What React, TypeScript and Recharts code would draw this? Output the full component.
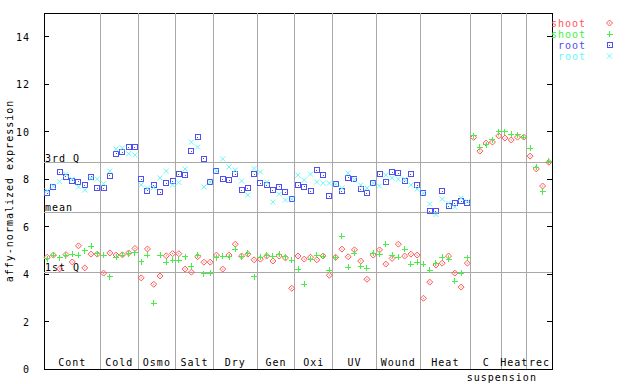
import React from "react";
import {
  ScatterChart,
  Scatter,
  XAxis,
  YAxis,
  ReferenceLine,
  ReferenceArea,
} from "recharts";

// experiment groups along the x axis, and how many samples each holds
const groups = ["Cont", "Cold", "Osmo", "Salt", "Dry", "Gen", "Oxi", "UV", "Wound", "Heat", "C", "Heat", "rec"];
const groupSizes = [9, 6, 6, 6, 7, 6, 6, 7, 7, 8, 5, 4, 4];
const yTicks = [0, 2, 4, 6, 8, 10, 12, 14];

// quartile / mean reference levels
const thirdQ = 8.68;
const meanLevel = 6.61;
const firstQ = 4.08;

// shoot, replicate 1 (red diamonds)
const shootA = [
  4.71, 4.8, 4.22, 4.82, 4.51, 5.19, 4.26, 4.84, 4.84,
  4.04, 4.89, 4.8, 4.81, 4.89, 5.08,
  3.84, 5.06, 3.57, 3.92, 4.77, 4.86,
  4.86, 4.21, 4.08, 4.73, 4.5, 4.5,
  4.8, 4.21, 4.8, 5.26, 4.76, 4.84, 4.6,
  4.63, 4.76, 4.55, 4.76, 4.68, 3.4,
  4.76, 4.63, 4.71, 4.6, 4.76, 3.95,
  4.71, 5.05, 4.73, 5.02, 4.55, 3.78, 4.8,
  5.02, 4.42, 4.66, 5.26, 4.76, 4.84, 4.8,
  2.98, 3.66, 4.38, 4.46, 4.76, 4.04, 3.45, 4.46,
  9.76, 9.18, 9.52, 9.56, 9.82,
  9.73, 9.65, 9.77, 9.77,
  8.97, 8.43, 7.71, 8.71,
];

// shoot, replicate 2 (green plus)
const shootB = [
  4.64, 4.8, 4.68, 4.77, 4.84, 4.8, 4.98, 5.18, 4.85,
  4.8, 3.88, 4.71, 4.8, 4.85, 4.89,
  4.51, 4.8, 2.77, 4.8, 4.5, 4.59,
  4.59, 4.72, 4.33, 4.8, 4.01, 4.04,
  4.68, 4.76, 4.73, 5.05, 4.73, 4.88, 3.88,
  4.71, 4.8, 4.76, 4.84, 4.73, 4.59,
  4.21, 3.57, 4.63, 4.8, 4.76, 4.16,
  4.68, 5.6, 4.29, 4.88, 4.33, 4.25, 4.88,
  4.84, 5.26, 4.8, 4.71, 5.05, 4.42, 4.5,
  4.42, 4.16, 4.46, 4.71, 4.63, 3.7, 4.04, 4.68,
  9.82, 9.35, 9.44, 9.65, 10.0,
  10.0, 9.9, 9.86, 9.77,
  9.31, 8.51, 7.46, 8.76,
];

// root, replicate 1 (blue squares)
const rootA = [
  7.41, 7.68, 8.3, 8.1, 7.93, 7.88, 7.75, 8.1, 7.62,
  7.62, 8.14, 9.06, 9.14, 9.35, 9.35,
  8.0, 7.51, 7.75, 7.45, 7.83, 7.92,
  8.21, 8.17, 9.18, 9.77, 8.85, 7.88,
  8.34, 8.0, 7.96, 8.21, 7.54, 7.62, 8.21,
  7.83, 7.75, 7.54, 7.67, 7.45, 7.16,
  7.75, 7.67, 7.5, 8.38, 8.17, 7.28,
  7.79, 7.5, 8.05, 8.0, 7.58, 7.41, 7.83,
  8.21, 7.88, 8.3, 8.25, 7.92, 8.21, 7.75,
  7.41, 6.65, 6.65, 7.5, 6.86, 6.99, 7.07, 7.0,
  null, null, null, null, null,
  null, null, null, null,
  null, null, null, null,
];

// root, replicate 2 (cyan crosses)
const rootB = [
  7.51, 7.7, 7.9, 8.2, 8.0, 7.67, 7.54, 8.03, 8.0,
  7.81, 8.34, 9.27, 9.31, 9.07, 9.02,
  7.76, 7.62, 7.65, 8.05, 8.34, 7.75,
  7.86, 8.43, 9.56, 9.35, 7.67, 7.88,
  8.34, 8.85, 8.51, 8.38, 7.92, 7.33, 8.45,
  8.3, 7.88, 7.03, 7.37, 7.12, 7.16,
  8.17, 7.96, 8.21, 7.88, 7.83, 7.83,
  7.79, 7.62, 8.25, 7.98, 7.75, 7.62, 7.83,
  7.71, 8.17, 8.05, 8.0, 8.0, 7.75, 7.58,
  7.41, 6.95, 6.51, 7.16, 6.99, 6.82, 7.2, 7.05,
  null, null, null, null, null,
  null, null, null, null,
  null, null, null, null,
];

const RED = "#ff5555";
const GREEN = "#44f044";
const BLUE = "#5050f0";
const CYAN = "#66f8f8";
const GRID = "#a8a8a8";
const FONT = "'DejaVu Sans Mono', monospace";

const total = groupSizes.reduce((a, b) => a + b, 0);
const bounds: number[] = [];
const centers: number[] = [];
let acc = 0;
groupSizes.forEach((n) => {
  centers.push(acc + n / 2);
  acc += n;
  bounds.push(acc);
});
const suspensionAt = bounds[10]; // between C and Heat of the suspension block

const toPoints = (vals: (number | null)[]) =>
  vals
    .map((v, i) => ({ x: i + 0.5, y: v }))
    .filter((p) => p.y !== null);

const txt = { fontFamily: FONT, fontSize: 10, letterSpacing: 1 };

const Diamond = (color: string) => (p: any) => (
  <g>
    <polygon
      points={`${p.cx},${p.cy - 3} ${p.cx + 3},${p.cy} ${p.cx},${p.cy + 3} ${p.cx - 3},${p.cy}`}
      fill="none"
      stroke={color}
    />
    <rect x={p.cx - 0.5} y={p.cy - 0.5} width={1} height={1} fill={color} />
  </g>
);

const Plus = (color: string) => (p: any) => (
  <g stroke={color} shapeRendering="crispEdges">
    <line x1={p.cx - 3} x2={p.cx + 3} y1={p.cy} y2={p.cy} />
    <line x1={p.cx} x2={p.cx} y1={p.cy - 3} y2={p.cy + 3} />
  </g>
);

const Square = (color: string) => (p: any) => (
  <g shapeRendering="crispEdges">
    <rect x={p.cx - 2.5} y={p.cy - 2.5} width={5} height={5} fill="none" stroke={color} />
    <rect x={p.cx - 0.5} y={p.cy - 0.5} width={1} height={1} fill={color} />
  </g>
);

const Cross = (color: string) => (p: any) => (
  <g stroke={color}>
    <line x1={p.cx - 2.5} x2={p.cx + 2.5} y1={p.cy - 2.5} y2={p.cy + 2.5} />
    <line x1={p.cx - 2.5} x2={p.cx + 2.5} y1={p.cy + 2.5} y2={p.cy - 2.5} />
  </g>
);

const YTick = (props: any) => {
  const { y, payload } = props;
  return (
    <g shapeRendering="crispEdges">
      <text x={30} y={y + 4} textAnchor="end" fill="#000" style={txt}>
        {payload.value}
      </text>
      <line x1={44} x2={49} y1={y} y2={y} stroke="#000" />
      <line x1={547} x2={552} y1={y} y2={y} stroke="#000" />
    </g>
  );
};

const XTick = (props: any) => {
  const { x, payload } = props;
  if (payload.value === suspensionAt) {
    return (
      <text x={x} y={381} textAnchor="middle" fill="#000" style={txt}>
        suspension
      </text>
    );
  }
  const idx = centers.indexOf(payload.value);
  return (
    <text x={x} y={366} textAnchor="middle" fill="#000" style={txt}>
      {groups[idx]}
    </text>
  );
};

const levelLabel = (name: string) => ({
  content: (p: any) => (
    <text x={45} y={p.viewBox.y - 1} fill="#000" style={txt}>
      {name}
    </text>
  ),
});

const legendItems = [
  { name: "shoot", color: RED, shape: Diamond(RED) },
  { name: "shoot", color: GREEN, shape: Plus(GREEN) },
  { name: "root", color: BLUE, shape: Square(BLUE) },
  { name: "root", color: CYAN, shape: Cross(CYAN) },
];

export default function App() {
  return (
    <div style={{ position: "absolute", left: 0, top: 0, width: 640, height: 384, background: "#fff" }}>
      <ScatterChart width={640} height={384} margin={{ top: 13, right: 88, bottom: 0, left: 0 }}>
        <XAxis
          type="number"
          dataKey="x"
          domain={[0, total]}
          ticks={[...centers, suspensionAt]}
          tick={<XTick />}
          tickLine={false}
          axisLine={false}
          height={15}
          interval={0}
        />
        <YAxis
          type="number"
          dataKey="y"
          domain={[0, 15]}
          ticks={yTicks}
          tick={<YTick />}
          tickLine={false}
          axisLine={false}
          width={44}
          interval={0}
          label={{
            content: () => (
              <text
                x={13}
                y={191}
                transform="rotate(-90 13 191)"
                textAnchor="middle"
                fill="#000"
                style={txt}
              >
                affy-normalized expression
              </text>
            ),
          }}
        />
        {bounds.slice(0, -1).map((b) => (
          <ReferenceLine key={b} x={b} stroke={GRID} shapeRendering="crispEdges" />
        ))}
        <ReferenceLine y={thirdQ} stroke={GRID} shapeRendering="crispEdges" label={levelLabel("3rd Q")} />
        <ReferenceLine y={meanLevel} stroke={GRID} shapeRendering="crispEdges" label={levelLabel("mean")} />
        <ReferenceLine y={firstQ} stroke={GRID} shapeRendering="crispEdges" label={levelLabel("1st Q")} />
        <ReferenceArea x1={0} x2={total} y1={0} y2={15} fill="none" stroke="#000" shapeRendering="crispEdges" />
        <Scatter name="shoot" data={toPoints(shootA)} shape={Diamond(RED)} isAnimationActive={false} />
        <Scatter name="shoot" data={toPoints(shootB)} shape={Plus(GREEN)} isAnimationActive={false} />
        <Scatter name="root" data={toPoints(rootA)} shape={Square(BLUE)} isAnimationActive={false} />
        <Scatter name="root" data={toPoints(rootB)} shape={Cross(CYAN)} isAnimationActive={false} />
      </ScatterChart>
      <svg width={90} height={70} style={{ position: "absolute", left: 550, top: 0 }}>
        {legendItems.map((it, i) => {
          const y = 23 + i * 11;
          return (
            <g key={i}>
              <text x={36} y={y + 4} textAnchor="end" fill={it.color} style={txt}>
                {it.name}
              </text>
              {it.shape({ cx: 59.5, cy: y })}
            </g>
          );
        })}
      </svg>
    </div>
  );
}
